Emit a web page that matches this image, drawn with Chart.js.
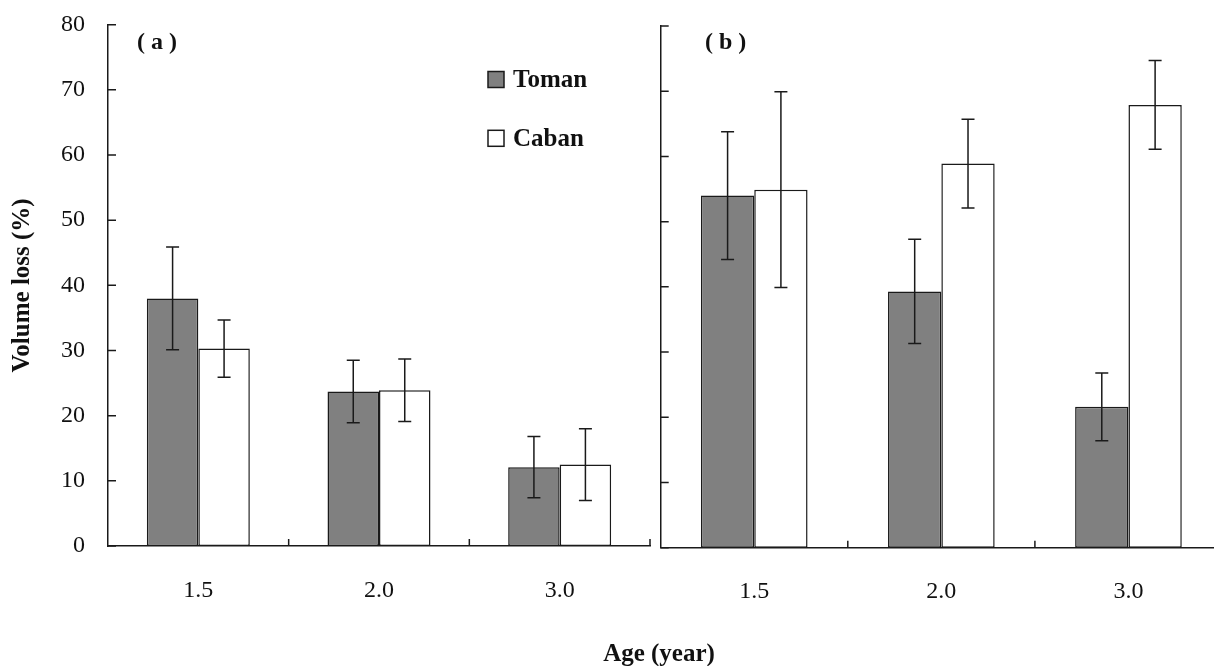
<!DOCTYPE html>
<html>
<head>
<meta charset="utf-8">
<script src="https://cdn.jsdelivr.net/npm/chart.js@4/dist/chart.umd.min.js"></script>
<style>
  html, body { margin: 0; padding: 0; background: #fff; overflow: hidden; width: 1214px; height: 666px; }
  #wrap { position: relative; width: 1214px; height: 666px; overflow: hidden; }
  canvas { position: absolute; top: 0; }
  #cA { left: 0; }
  #cB { left: 600px; }
  #xtitle { position: absolute; left: 659px; top: 652px; transform: translate(-50%, -50%);
            font-family: 'Liberation Serif', serif; font-weight: bold; font-size: 25px; line-height: 1; color: #111; white-space: nowrap; }
</style>
</head>
<body>
<div id="wrap">
  <canvas id="cA" width="660" height="666"></canvas>
  <canvas id="cB" width="640" height="666"></canvas>
  <div id="xtitle">Age (year)</div>
</div>
<script>
// ---- data ----
const categories = ['1.5', '2.0', '3.0'];
const seriesNames = ['Toman', 'Caban'];
// panel (a)
const tomanA = [38.0, 23.7, 12.1];
const tomanAErr = [7.9, 4.8, 4.7];
const cabanA = [30.3, 23.9, 12.5];
const cabanAErr = [4.4, 4.8, 5.5];
// panel (b)
const tomanB = [54.0, 39.3, 21.6];
const tomanBErr = [9.8, 8.0, 5.2];
const cabanB = [54.9, 58.9, 67.9];
const cabanBErr = [15.0, 6.8, 6.8];
// axis
const yMin = 0, yMax = 80, yStep = 10;

const FONT = "'Liberation Serif', serif";
const INK = '#1a1a1a';
const GRAY = '#808080';

// error bars
const errorBarPlugin = {
  id: 'errorBars',
  afterDatasetsDraw(chart) {
    const ctx = chart.ctx;
    const y = chart.scales.y;
    chart.data.datasets.forEach((ds, di) => {
      const meta = chart.getDatasetMeta(di);
      meta.data.forEach((bar, i) => {
        const v = ds.data[i], e = ds.errors[i];
        const x = bar.x;
        const yt = y.getPixelForValue(v + e);
        const yb = y.getPixelForValue(v - e);
        ctx.save();
        ctx.strokeStyle = INK;
        ctx.lineWidth = 1.5;
        ctx.beginPath();
        ctx.moveTo(x, yt); ctx.lineTo(x, yb);
        ctx.moveTo(x - 6.5, yt); ctx.lineTo(x + 6.5, yt);
        ctx.moveTo(x - 6.5, yb); ctx.lineTo(x + 6.5, yb);
        ctx.stroke();
        ctx.restore();
      });
    });
  }
};

// inward tick marks
const inwardTicksPlugin = {
  id: 'inwardTicks',
  afterDraw(chart) {
    const ctx = chart.ctx;
    const xs = chart.scales.x, ys = chart.scales.y;
    const area = chart.chartArea;
    ctx.save();
    ctx.strokeStyle = INK;
    ctx.lineWidth = 1.5;
    ctx.beginPath();
    ys.ticks.forEach(t => {
      const py = ys.getPixelForValue(t.value);
      ctx.moveTo(area.left, py); ctx.lineTo(area.left + 8, py);
    });
    const w = xs.getPixelForValue(1) - xs.getPixelForValue(0);
    for (let i = 1; i <= categories.length; i++) {
      const px = xs.getPixelForValue(i) - w / 2;
      ctx.moveTo(px, area.bottom); ctx.lineTo(px, area.bottom - 7);
    }
    ctx.stroke();
    ctx.restore();
  }
};

// panel label + legend
const annotPlugin = {
  id: 'annot',
  afterDraw(chart, args, opts) {
    const ctx = chart.ctx;
    ctx.save();
    ctx.fillStyle = '#111';
    ctx.font = 'bold 24px ' + FONT;
    ctx.textBaseline = 'middle';
    ctx.textAlign = 'left';
    if (opts.label) ctx.fillText(opts.label.text, opts.label.x, opts.label.y);
    if (opts.legend) {
      const L = opts.legend;
      ctx.font = 'bold 25px ' + FONT;
      chart.data.datasets.forEach((ds, i) => {
        const cy = L.y + i * L.gap;
        ctx.fillStyle = ds.backgroundColor;
        ctx.fillRect(L.x, cy - 8, 16, 16);
        ctx.strokeStyle = INK;
        ctx.lineWidth = 1.5;
        ctx.strokeRect(L.x, cy - 8, 16, 16);
        ctx.fillStyle = '#111';
        ctx.fillText(ds.label, L.x + 25, cy + 1);
      });
    }
    ctx.restore();
  }
};

function makeChart(id, tVals, tErr, cVals, cErr, cfg) {
  return new Chart(document.getElementById(id), {
    type: 'bar',
    data: {
      labels: categories,
      datasets: [
        { label: seriesNames[0], data: tVals, errors: tErr, backgroundColor: GRAY, borderColor: INK, borderWidth: 1.5, borderSkipped: false },
        { label: seriesNames[1], data: cVals, errors: cErr, backgroundColor: '#ffffff', borderColor: INK, borderWidth: 1.5, borderSkipped: false }
      ]
    },
    options: {
      responsive: false,
      animation: false,
      devicePixelRatio: 1,
      layout: { padding: cfg.padding },
      datasets: { bar: { categoryPercentage: 0.57, barPercentage: 1.0 } },
      plugins: {
        legend: { display: false },
        tooltip: { enabled: false },
        annot: cfg.annot
      },
      scales: {
        x: {
          grid: { display: false, drawTicks: false },
          border: { display: true, color: INK, width: 1.5 },
          ticks: { color: '#111', font: { family: FONT, size: 24 }, padding: 30 },
          afterFit(s) { s.height = cfg.xHeight; s.paddingLeft = 0; s.paddingRight = 0; }
        },
        y: {
          min: yMin, max: yMax,
          grid: { display: false, drawTicks: false },
          border: { display: true, color: INK, width: 1.5 },
          ticks: { display: cfg.yLabels, stepSize: yStep, color: '#111', font: { family: FONT, size: 24 }, padding: 23 },
          title: { display: cfg.yLabels, text: 'Volume loss (%)', color: '#111',
                   font: { family: FONT, size: 25, weight: 'bold' }, padding: { top: 8, bottom: 0 } },
          afterFit(s) { s.width = cfg.yWidth; s.paddingTop = 0; s.paddingBottom = 0; }
        }
      }
    },
    plugins: [errorBarPlugin, inwardTicksPlugin, annotPlugin]
  });
}

makeChart('cA', tomanA, tomanAErr, cabanA, cabanAErr, {
  padding: { left: 0, right: 10, top: 24.7, bottom: 0 },
  xHeight: 120, yWidth: 108, yLabels: true,
  annot: { label: { text: '( a )', x: 137, y: 43 }, legend: { x: 488, y: 79.5, gap: 58.8 } }
});

makeChart('cB', tomanB, tomanBErr, cabanB, cabanBErr, {
  padding: { left: 60.7, right: 18, top: 26, bottom: 0 },
  xHeight: 118.3, yWidth: 0, yLabels: false,
  annot: { label: { text: '( b )', x: 105, y: 42.5 } }
});
</script>
</body>
</html>
